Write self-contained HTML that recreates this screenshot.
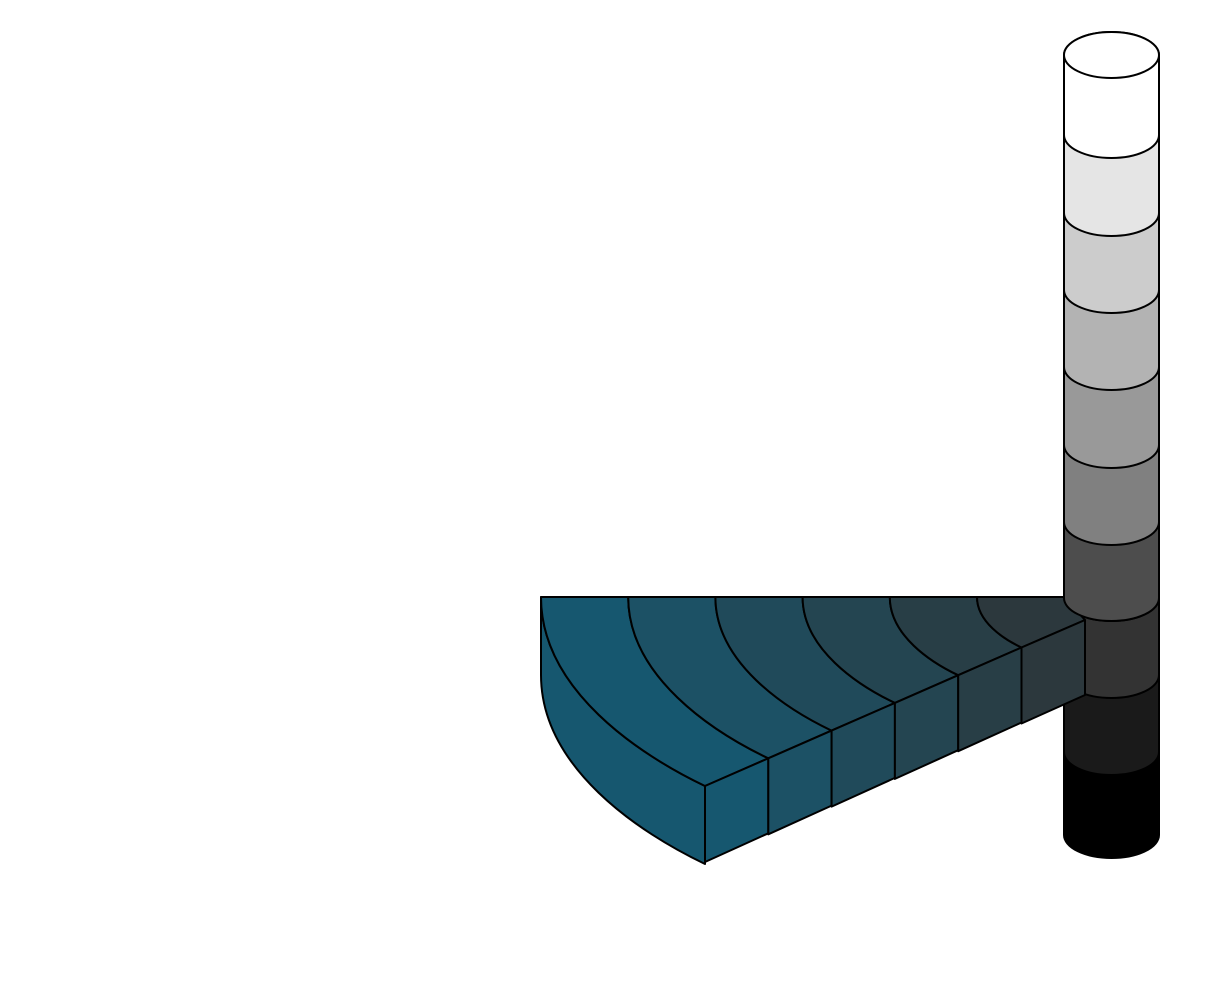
<!DOCTYPE html>
<html><head><meta charset="utf-8"><style>html,body{margin:0;padding:0;background:#fff}svg{display:block}</style></head>
<body>
<svg width="1228" height="1000" viewBox="0 0 1228 1000" xmlns="http://www.w3.org/2000/svg" id="s">
</svg>
<script>
const s=document.getElementById('s');
let out='';
const L=1064,R=1159,rx=47.5,ry=23;
const cols=['#ffffff','#e5e5e5','#cccccc','#b3b3b3','#999999','#808080','#4d4d4d','#333333','#1a1a1a','#000000'];
const Y=[55,135,213,290,367,445,522,598,675,752,835];
function y(k){return Y[k];}
function seg(k){
  return `<path d="M${L},${y(k)} L${L},${y(k+1)} A${rx},${ry} 0 0 0 ${R},${y(k+1)} L${R},${y(k)} A${rx},${ry} 0 0 0 ${L},${y(k)} Z" fill="${cols[k]}" stroke="#000" stroke-width="2"/>`;
}
for(let k=9;k>=0;k--) out+=seg(k);
out+=`<ellipse cx="1111.5" cy="55" rx="${rx}" ry="${ry}" fill="#fff" stroke="#000" stroke-width="2"/>`;
const wc=['#16576f','#1c5165','#204a5a','#244551','#283e46','#2c383d'];
const T=i=>[541+87.2*i,597], Rd=i=>[705+63.3*i,786-27.7*i];
function arc(i,off,rev){
  const t=T(i),r=Rd(i);const dx=r[0]-t[0],dy=r[1]-t[1];
  const c1=[t[0],t[1]+0.492*dy+off],c2=[t[0]+0.604*dx,t[1]+0.836*dy+off];
  const a=[t[0],t[1]+off],b=[r[0],r[1]+off];
  if(!rev) return `C${c1} ${c2} ${b}`;
  return `C${c2} ${c1} ${a}`;
}
out+=`<path d="M541,597 L541,675 ${arc(0,78,false)} L705,786 ${arc(0,0,true)} Z" fill="${wc[0]}" stroke="#000" stroke-width="2" stroke-linejoin="round"/>`;
for(let i=0;i<6;i++){
  const t=T(i),r2=[705+63.3*(i+1),786-27.7*(i+1)];
  let inner;
  if(i<5) inner=`L${r2} ${arc(i+1,0,true)}`; else inner=`L1085,620 L1064,597`;
  out+=`<path d="M${t} ${arc(i,0,false)} ${inner} Z" fill="${wc[i]}" stroke="#000" stroke-width="2" stroke-linejoin="round"/>`;
}
for(let i=0;i<6;i++){
  const a=Rd(i),b=[705+63.3*(i+1),786-27.7*(i+1)];
  if(i==5)b[1]=620,b[0]=1085;
  out+=`<path d="M${a} L${b} L${b[0]},${b[1]+75} L${a[0]},${a[1]+76} Z" fill="${wc[i]}" stroke="#000" stroke-width="2" stroke-linejoin="round"/>`;
}
out+=`<line x1="541" y1="597" x2="1064" y2="597" stroke="#000" stroke-width="2"/>`;
out+=`<path d="M${L},585 L${L},${y(7)} A${rx},${ry} 0 0 0 ${R},${y(7)} L${R},585 Z" fill="${cols[6]}"/>`;
out+=`<path d="M${L},585 L${L},${y(7)} A${rx},${ry} 0 0 0 ${R},${y(7)} L${R},585" fill="none" stroke="#000" stroke-width="2"/>`;
s.innerHTML=out;
</script>
</body></html>
